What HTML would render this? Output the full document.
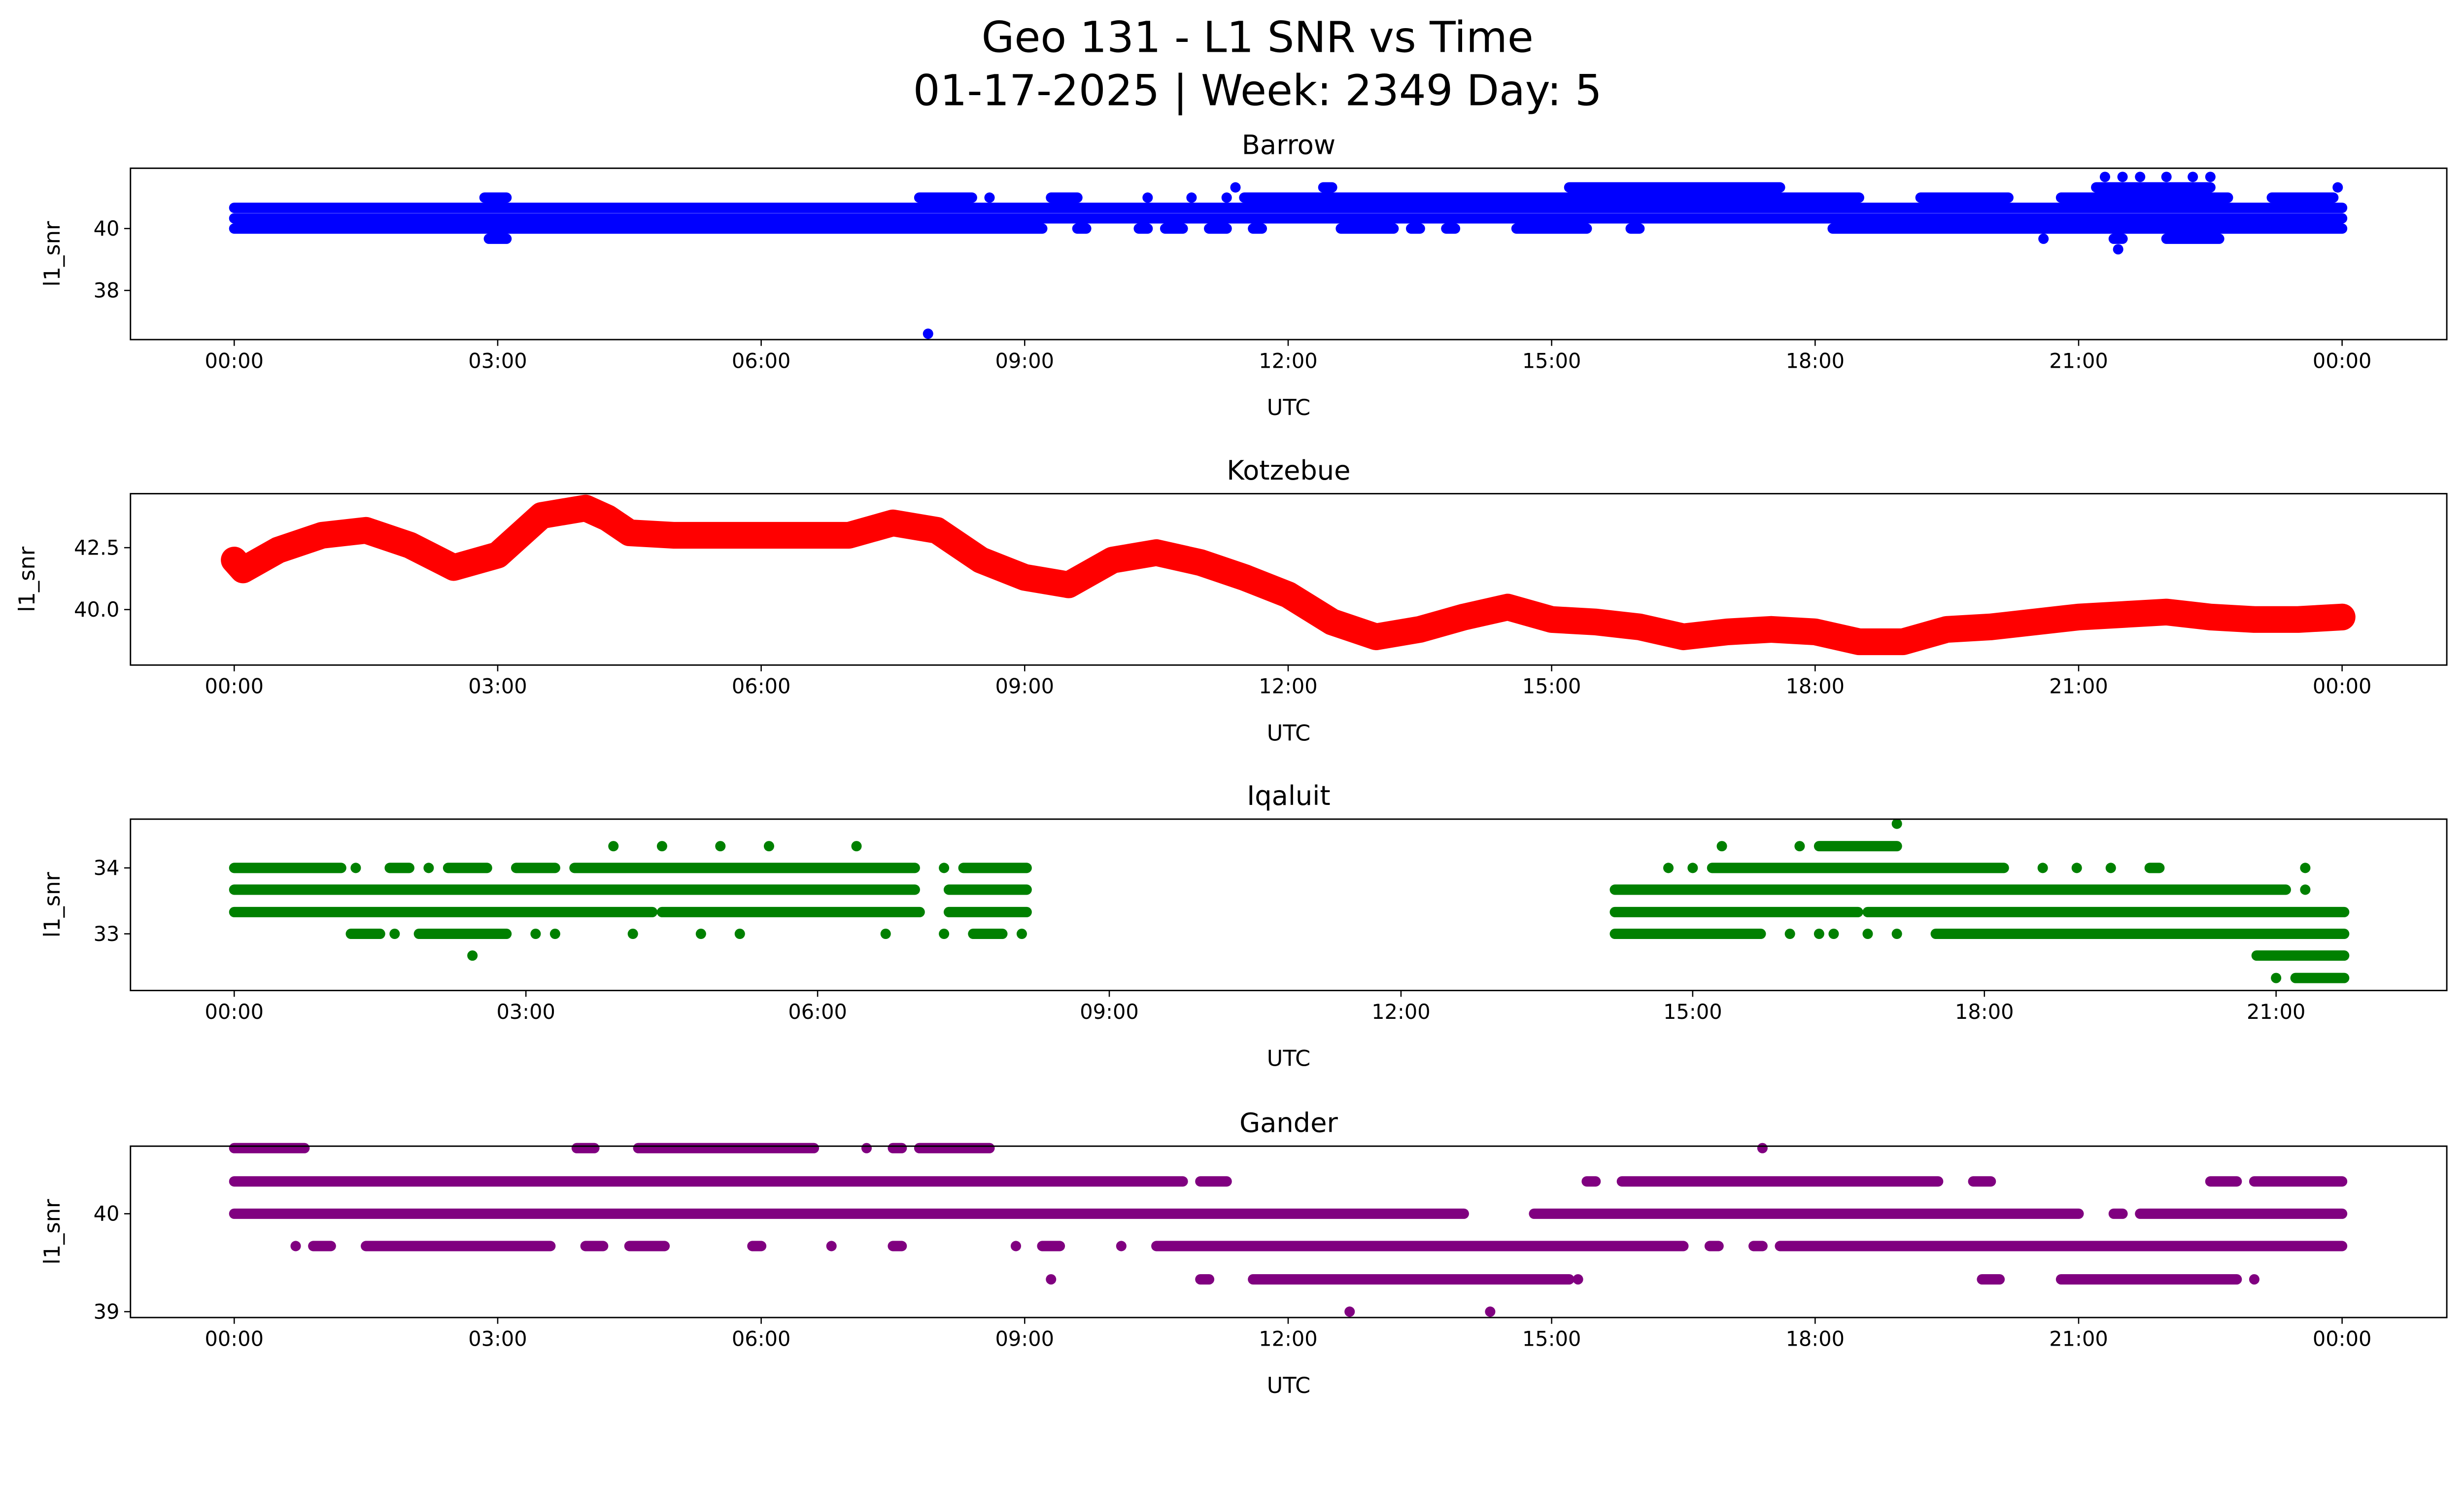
<!DOCTYPE html>
<html><head><meta charset="utf-8"><style>
html,body{margin:0;padding:0;background:#fff;width:5279px;height:3033px;overflow:hidden;}
svg{display:block;width:5279px;height:3033px;}
text{font-family:"DejaVu Sans","Liberation Sans",sans-serif;fill:#000;}
</style></head><body>
<svg id="svgroot" xmlns="http://www.w3.org/2000/svg" width="5279" height="3033">
<rect x="0" y="0" width="5279" height="3033" fill="#fff"/>
<g id="fig" transform="scale(3.1897)">
<text x="800" y="33" font-size="27" text-anchor="middle">Geo 131 - L1 SNR vs Time</text>
<text x="800" y="67" font-size="27" text-anchor="middle">01-17-2025 | Week: 2349 Day: 5</text>
</g>
</svg>
<script>
// ---- data: segments [startHour, endHour, snr] ----
const barrowSegs = [
 [0,9.2,40.0],[9.6,9.7,40.0],[10.3,10.4,40.0],[10.6,10.8,40.0],[11.1,11.3,40.0],[11.6,11.7,40.0],[12.6,13.2,40.0],[13.4,13.5,40.0],[13.8,13.9,40.0],[14.6,15.4,40.0],[15.9,16.0,40.0],[18.2,24,40.0],
 [0,24,40.33],[0,24,40.67],
 [2.85,3.1,41.0],[7.8,8.4,41.0],[8.6,8.6,41.0],[9.3,9.6,41.0],[10.4,10.4,41.0],[10.9,10.9,41.0],[11.3,11.3,41.0],[11.5,18.5,41.0],[19.2,20.2,41.0],[20.8,22.7,41.0],[23.2,23.9,41.0],
 [11.4,11.4,41.33],[12.4,12.5,41.33],[15.2,17.6,41.33],[21.2,22.5,41.33],[23.95,23.95,41.33],
 [21.3,21.3,41.67],[21.5,21.5,41.67],[21.7,21.7,41.67],[22.0,22.0,41.67],[22.3,22.3,41.67],[22.5,22.5,41.67],
 [2.9,3.1,39.67],[20.6,20.6,39.67],[21.4,21.5,39.67],[22.0,22.6,39.67],
 [21.45,21.45,39.33],[7.9,7.9,36.6]
];
const kotzTimes = [0,0.1,0.5,1,1.5,2,2.5,3,3.25,3.5,4,4.25,4.5,5,5.5,6,6.5,7,7.5,8,8.5,9,9.5,10,10.5,11,11.5,12,12.5,13,13.5,14,14.5,15,15.5,16,16.5,17,17.5,18,18.5,19,19.5,20,20.5,21,21.5,22,22.5,23,23.5,24];
const kotzValues = [42.0,41.6,42.4,43.0,43.2,42.6,41.7,42.2,43.0,43.8,44.1,43.7,43.1,43.0,43.0,43.0,43.0,43.0,43.5,43.2,42.0,41.3,41.0,42.0,42.3,41.9,41.3,40.6,39.5,38.9,39.2,39.7,40.1,39.6,39.5,39.3,38.9,39.1,39.2,39.1,38.7,38.7,39.2,39.3,39.5,39.7,39.8,39.9,39.7,39.6,39.6,39.7];
const iqaluitSegs = [
 [0,7.0,33.67],[7.35,8.15,33.67],[14.2,21.1,33.67],[21.3,21.3,33.67],
 [0,4.3,33.33],[4.4,7.05,33.33],[7.35,8.15,33.33],[14.2,16.7,33.33],[16.8,21.7,33.33],
 [0,1.1,34.0],[1.25,1.25,34.0],[1.6,1.8,34.0],[2.0,2.0,34.0],[2.2,2.6,34.0],[2.9,3.3,34.0],[3.5,7.0,34.0],[7.3,7.3,34.0],[7.5,8.15,34.0],
 [14.75,14.75,34.0],[15.0,15.0,34.0],[15.2,18.2,34.0],[18.6,18.6,34.0],[18.95,18.95,34.0],[19.3,19.3,34.0],[19.7,19.8,34.0],[21.3,21.3,34.0],
 [1.2,1.5,33.0],[1.65,1.65,33.0],[1.9,2.8,33.0],[3.1,3.1,33.0],[3.3,3.3,33.0],[4.1,4.1,33.0],[4.8,4.8,33.0],[5.2,5.2,33.0],[6.7,6.7,33.0],[7.3,7.3,33.0],[7.6,7.9,33.0],[8.1,8.1,33.0],
 [14.2,15.7,33.0],[16.0,16.0,33.0],[16.3,16.3,33.0],[16.45,16.45,33.0],[16.8,16.8,33.0],[17.1,17.1,33.0],[17.5,21.7,33.0],
 [3.9,3.9,34.33],[4.4,4.4,34.33],[5.0,5.0,34.33],[5.5,5.5,34.33],[6.4,6.4,34.33],[15.3,15.3,34.33],[16.1,16.1,34.33],[16.3,17.1,34.33],
 [17.1,17.1,34.67],[2.45,2.45,32.67],[20.8,21.7,32.67],[21.0,21.0,32.33],[21.2,21.7,32.33]
];
const ganderSegs = [
 [0,10.8,40.33],[11.0,11.3,40.33],[15.4,15.5,40.33],[15.8,19.4,40.33],[19.8,20.0,40.33],[22.5,22.8,40.33],[23.0,24,40.33],
 [0,14.0,40.0],[14.8,21.0,40.0],[21.4,21.5,40.0],[21.7,24,40.0],
 [0,0.8,40.67],[3.9,4.1,40.67],[4.6,6.6,40.67],[7.2,7.2,40.67],[7.5,7.6,40.67],[7.8,8.6,40.67],[17.4,17.4,40.67],
 [0.7,0.7,39.67],[0.9,1.1,39.67],[1.5,3.6,39.67],[4.0,4.2,39.67],[4.5,4.9,39.67],[5.9,6.0,39.67],[6.8,6.8,39.67],[7.5,7.6,39.67],[8.9,8.9,39.67],[9.2,9.4,39.67],[10.1,10.1,39.67],[10.5,16.5,39.67],[16.8,16.9,39.67],[17.3,17.4,39.67],[17.6,24,39.67],
 [9.3,9.3,39.33],[11.0,11.1,39.33],[11.6,15.2,39.33],[15.3,15.3,39.33],[19.9,20.1,39.33],[20.8,22.8,39.33],[23.0,23.0,39.33],
 [12.7,12.7,39.0],[14.3,14.3,39.0]
];
const hourTicks = [0,3,6,9,12,15,18,21,24];
const hourLabels = ["00:00","03:00","06:00","09:00","12:00","15:00","18:00","21:00","00:00"];
const iqHourTicks = [0,3,6,9,12,15,18,21];

const NS = "http://www.w3.org/2000/svg";
const svg = document.getElementById('fig');
function el(tag, attrs, parent){ const e=document.createElementNS(NS,tag); for(const k in attrs) e.setAttribute(k,attrs[k]); (parent||svg).appendChild(e); return e; }

function panel(name, top, title, xmax, xLeftPx, xRightPx, ymin, ymax, yTicks, yLabels, ylabelX, ticksX, color, drawFn){
  const L=83, R=1556.6, T=top, B=top+109;
  const g = el('g',{});
  
  
  const xs = h => xLeftPx + (xRightPx - xLeftPx) * h / xmax;
  const ys = v => B - (v - ymin) / (ymax - ymin) * (B - T);
  ticksX.forEach((h,i)=>{
    const x=xs(h);
    el('line',{x1:x,x2:x,y1:B,y2:B+4,stroke:'#000','stroke-width':0.8},g);
    const t=el('text',{x:x,y:B+18,'font-size':13,'text-anchor':'middle'},g);
    
    
    t.textContent=hourLabels[i];
  });
  yTicks.forEach((v,i)=>{
    const y=ys(v);
    el('line',{x1:L-4,x2:L,y1:y,y2:y,stroke:'#000','stroke-width':0.8},g);
    const t=el('text',{x:L-7,y:y+4.5,'font-size':13,'text-anchor':'end'},g);
    
    
    t.textContent=yLabels[i];
  });
  const marks = el('g',{},g);
  
  
  drawFn(marks, xs, ys, color);
  const frame = el('rect',{x:L,y:T,width:R-L,height:B-T,fill:'none',stroke:'#000','stroke-width':0.9},g);
  
  
  const tt=el('text',{x:(L+R)/2,y:T-9,'font-size':17,'text-anchor':'middle'},g);
  
  
  tt.textContent=title;
  const xl=el('text',{x:(L+R)/2,y:B+48,'font-size':14,'text-anchor':'middle'},g);
  
  
  xl.textContent='UTC';
  const yl=el('text',{x:ylabelX,y:(T+B)/2,'font-size':14,'text-anchor':'middle',transform:'rotate(-90 '+ylabelX+' '+((T+B)/2)+')'},g);
  
  
  yl.textContent='l1_snr';
}
const R_DOT=3.3;
function segDraw(segs){
  return function(g,xs,ys,color){
    segs.forEach(s=>{
      if(s[0]===s[1]){
        const c=el('circle',{cx:xs(s[0]),cy:ys(s[2]),r:R_DOT,fill:color},g);
        
        
      } else {
        const l=el('line',{x1:xs(s[0]),x2:xs(s[1]),y1:ys(s[2]),y2:ys(s[2]),stroke:color,'stroke-width':R_DOT*2,'stroke-linecap':'round'},g);
        
        
      }
    });
  };
}
function kotzDraw(g,xs,ys,color){
  const pts = kotzTimes.map((t,i)=>xs(t).toFixed(2)+','+ys(kotzValues[i]).toFixed(2)).join(' ');
  const p=el('polyline',{points:pts,fill:'none',stroke:color,'stroke-width':17,'stroke-linejoin':'round','stroke-linecap':'round'},g);
  
  
}
panel('barrow',107,'Barrow',24,149,1490,36.41,41.95,[38,40],['38','40'],38,hourTicks,'#0000ff',segDraw(barrowSegs));
panel('kotzebue',314,'Kotzebue',24,149,1490,37.76,44.68,[40,42.5],['40.0','42.5'],22,hourTicks,'#ff0000',kotzDraw);
panel('iqaluit',521,'Iqaluit',21,149,1448,32.14,34.74,[33,34],['33','34'],38,iqHourTicks,'#008000',segDraw(iqaluitSegs));
panel('gander',729,'Gander',24,149,1490,38.94,40.69,[39,40],['39','40'],38,hourTicks,'#800080',segDraw(ganderSegs));
</script>
</body></html>
